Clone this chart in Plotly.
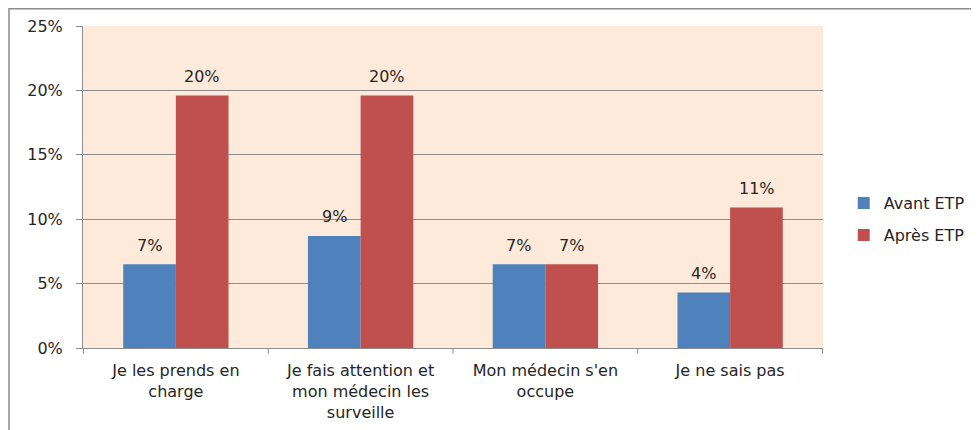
import plotly.graph_objects as go

categories = ["Je les prends en<br>charge",
              "Je fais attention et<br>mon médecin les<br>surveille",
              "Mon médecin s'en<br>occupe",
              "Je ne sais pas"]
avant_values = [6.5, 8.7, 6.5, 4.3]
apres_values = [19.6, 19.6, 6.5, 10.9]
avant_labels = ["7%", "9%", "7%", "4%"]
apres_labels = ["20%", "20%", "7%", "11%"]
y_ticks = [0, 5, 10, 15, 20, 25]
y_tick_labels = ["0%", "5%", "10%", "15%", "20%", "25%"]

font_family = "DejaVu Sans, sans-serif"
text_color = "#262626"
grey = "#8C8C8C"

fig = go.Figure()
fig.add_trace(go.Bar(x=categories, y=avant_values, name="Avant ETP",
                     legendgroup="a",
                     marker_color="#4F81BD", marker_line_width=0))
fig.add_trace(go.Bar(x=categories, y=apres_values, name="Après ETP",
                     legendgroup="b",
                     marker_color="#C0504D", marker_line_width=0))

# value labels above the bars
bar_px = 53
for cat, v, lab in zip(categories, avant_values, avant_labels):
    fig.add_annotation(x=cat, y=v, text=lab, showarrow=False,
                       xshift=-bar_px / 2, yshift=19,
                       font=dict(size=16, color=text_color))
for cat, v, lab in zip(categories, apres_values, apres_labels):
    fig.add_annotation(x=cat, y=v, text=lab, showarrow=False,
                       xshift=bar_px / 2, yshift=19,
                       font=dict(size=16, color=text_color))

fig.update_layout(
    width=971, height=422,
    margin=dict(l=75, r=156, t=18, b=82, autoexpand=False),
    paper_bgcolor="white",
    plot_bgcolor="#FDEADA",
    barmode="group",
    bargap=0.43,
    bargroupgap=0,
    font=dict(family=font_family, size=16, color=text_color),
    legend=dict(x=1.028, y=0.40, xanchor="left", yanchor="middle",
                font=dict(size=16), tracegroupgap=8, traceorder="grouped"),
    showlegend=True,
    shapes=[dict(type="rect", xref="paper", yref="paper",
                 x0=-0.1, x1=1.5, y0=-1, y1=1.0535,
                 line=dict(color=grey, width=1.5), layer="below")],
)
fig.update_yaxes(range=[0, 25], tickmode="array", tickvals=y_ticks,
                 ticktext=y_tick_labels,
                 showgrid=True, gridcolor=grey, gridwidth=1,
                 showline=True, linecolor=grey, ticks="outside",
                 ticklen=6, tickcolor=grey, zeroline=False,
                 ticklabelstandoff=10, automargin=False,
                 tickfont=dict(size=16))
fig.update_xaxes(showline=True, linecolor=grey, ticks="",
                 ticklabelstandoff=8,
                 tickfont=dict(size=16), showgrid=False, automargin=False)

# category separator ticks on bottom axis
for i in range(len(categories) + 1):
    fig.add_shape(type="line", xref="x", yref="paper",
                  x0=i - 0.5, x1=i - 0.5, y0=0, y1=-0.018,
                  line=dict(color=grey, width=1))

fig.write_html("out.html")
